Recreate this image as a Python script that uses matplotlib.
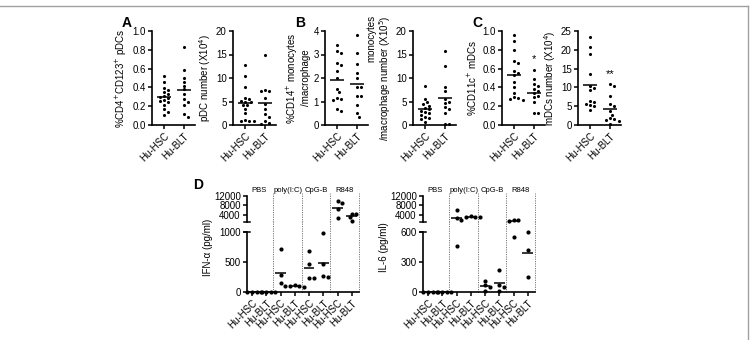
import numpy as np
import matplotlib
matplotlib.use("Agg")
import matplotlib.pyplot as plt
from matplotlib.lines import Line2D

plt.rcParams['font.family'] = ['Liberation Sans', 'DejaVu Sans']

groups = ["Hu-HSC", "Hu-BLT"]

# top row data
pdc_pct_hsc = [0.52, 0.46, 0.39, 0.37, 0.35, 0.33, 0.31, 0.30, 0.29, 0.27, 0.26, 0.24, 0.21, 0.17, 0.14, 0.11]
pdc_pct_blt = [0.83, 0.58, 0.50, 0.46, 0.42, 0.38, 0.33, 0.28, 0.25, 0.21, 0.12, 0.09]
pdc_num_hsc = [12.7, 10.5, 8.0, 5.8, 5.5, 5.2, 5.0, 4.8, 4.2, 4.3, 3.3, 2.5, 1.0, 0.9, 0.9, 0.85]
pdc_num_blt = [15.0, 7.4, 7.3, 7.2, 5.7, 4.4, 3.4, 2.3, 1.8, 0.9, 0.5, 0.3]
mono_pct_hsc = [3.4, 3.15, 3.05, 2.65, 2.55, 2.3, 2.0, 1.55, 1.4, 1.15, 1.12, 1.05, 0.68, 0.6]
mono_pct_blt = [3.85, 3.05, 2.6, 2.2, 2.0, 1.6, 1.6, 1.25, 1.25, 0.85, 0.5, 0.35]
mono_num_hsc = [8.4, 5.5, 4.8, 4.4, 4.1, 3.6, 3.3, 3.0, 2.8, 2.5, 2.2, 1.8, 1.5, 1.2, 0.6]
mono_num_blt = [15.8, 12.5, 8.0, 7.2, 5.6, 5.0, 4.6, 3.8, 3.5, 2.5, 0.3, 0.2]
mdc_pct_hsc = [0.96, 0.89, 0.80, 0.68, 0.66, 0.57, 0.55, 0.53, 0.46, 0.40, 0.34, 0.30, 0.29, 0.28, 0.27]
mdc_pct_blt = [0.58, 0.49, 0.44, 0.42, 0.38, 0.36, 0.34, 0.31, 0.30, 0.25, 0.13, 0.13]
mdc_num_hsc = [23.3, 20.8, 18.8, 13.6, 10.5, 9.8, 9.3, 6.3, 6.0, 5.6, 5.2, 5.0, 4.0]
mdc_num_blt = [10.8, 10.4, 7.7, 5.5, 5.0, 3.6, 2.7, 1.8, 1.6, 1.2, 1.0, 0.3]

# panel D data
treatments = ["PBS", "poly(I:C)", "CpG-B", "R848"]
d_labels = groups * 4
ifn = [
    [0, 0, 0, 0], [0, 0, 0, 0],
    [720, 290, 150, 100], [120, 100, 95, 90],
    [680, 460, 240, 240], [980, 460, 270, 250],
    [10000, 9200, 6500, 2700], [4500, 4200, 3200, 1500],
]
il6 = [
    [0, 0, 0, 0], [0, 0, 0, 0],
    [6100, 2500, 1800, 456], [3500, 3300, 3200, 3000],
    [115, 70, 55, 15], [221, 70, 54, 13],
    [1700, 1700, 1600, 553], [597, 423, 148],
]

W, H = 754, 340
fig = plt.figure(figsize=(W / 100, H / 100), dpi=100)


def px_axes(left, top, right, bottom):
    return fig.add_axes([left / W, 1 - bottom / H, (right - left) / W, (bottom - top) / H])


def swarm(vals, to_px, step_px, dot=3.3):
    # simple deterministic beeswarm, spacing in pixels
    vals = np.asarray(vals, float)
    offs = np.zeros(len(vals))
    placed = []
    for i in np.argsort(-vals, kind="stable"):
        y = to_px(vals[i])
        for k in [0, 0.6, -0.6, 1.2, -1.2, 1.8, -1.8, 2.4, -2.4]:
            x = k * dot
            if all((x - px) ** 2 + (y - py) ** 2 >= dot ** 2 for px, py in placed):
                break
        placed.append((x, y))
        offs[i] = x / step_px
    return offs


def style(ax):
    for s in ["top", "right"]:
        ax.spines[s].set_visible(False)
    for s in ["left", "bottom"]:
        ax.spines[s].set_linewidth(1.2)
    ax.tick_params(width=1.1, length=3, labelsize=7, pad=1.5)


top_panels = [
    (152, pdc_pct_hsc, pdc_pct_blt, 1.0, 0.2, "%CD4$^{+}$CD123$^{+}$ pDCs", "A", None),
    (233, pdc_num_hsc, pdc_num_blt, 20, 5, "pDC number (X10$^{4}$)", None, None),
    (325, mono_pct_hsc, mono_pct_blt, 4, 1, "%CD14$^{+}$ monocytes\n/macrophage", "B", None),
    (413, mono_num_hsc, mono_num_blt, 20, 5, "monocytes\n/macrophage number (X10$^{5}$)", None, None),
    (502, mdc_pct_hsc, mdc_pct_blt, 1.0, 0.2, "%CD11c$^{+}$ mDCs", "C", (0.70, "*")),
    (578, mdc_num_hsc, mdc_num_blt, 25, 5, "mDCs number (X10$^{4}$)", None, (13.5, "**")),
]

TOP, ZERO = 31, 125
for left, hsc, blt, ymax, step, ylabel, letter, star in top_panels:
    ax = px_axes(left, TOP, left + 43, ZERO)
    ax.set_xlim(-0.6, 1.55)
    ax.set_ylim(0, ymax)
    step_px = 43 / 2.15
    for i, vals in enumerate([hsc, blt]):
        offs = swarm(vals, lambda v: v / ymax * (ZERO - TOP), step_px, dot=3.6)
        ax.scatter(i + offs, vals, s=5, c="black", lw=0, clip_on=False, zorder=3)
        ax.hlines(np.mean(vals), i - 0.35, i + 0.35, color="black", lw=1.1)
    ax.set_yticks(np.arange(0, ymax + step / 2, step))
    if ymax <= 1:
        ax.set_yticklabels([f"{t:.1f}" for t in ax.get_yticks()])
    ax.set_xticks([0, 1])
    ax.set_xticklabels(groups, rotation=45, ha="right", rotation_mode="anchor", fontsize=7)
    ma = "right" if "monocytes\n/macrophage number" in ylabel else "center"
    ax.set_ylabel(ylabel, fontsize=7, labelpad=2, multialignment=ma, linespacing=1.1)
    style(ax)
    if star:
        ax.text(1, star[0], star[1], ha="center", va="center", fontsize=8)
    if letter:
        fig.text((left - 30) / W, 1 - 23 / H, letter, fontsize=10, fontweight="bold", va="center")


def panel_d(left, data, lo_max, lo_ticks, ylabel, letter=None):
    right = left + 112
    top_min = 1000
    axt = px_axes(left, 196, right, 222)
    axb = px_axes(left, 232, right, 292)
    step_px = 112 / 7.85

    def to_px(v):
        if v <= lo_max:
            return v / lo_max * 60
        return 70 + (v - top_min) / (12000 - top_min) * 26

    for ax in (axt, axb):
        ax.set_xlim(-0.35, 7.5)
        style(ax)
    axt.set_ylim(top_min, 12000)
    axb.set_ylim(0, lo_max)
    axt.spines["bottom"].set_visible(False)
    axt.set_xticks([])
    axt.set_yticks([4000, 8000, 12000])
    axb.set_yticks(lo_ticks)
    axb.set_xticks(range(8))
    axb.set_xticklabels(d_labels, rotation=45, ha="right", rotation_mode="anchor", fontsize=7)
    # caps at the axis break
    axt.plot([-0.55, -0.15], [top_min, top_min], color="black", lw=1.1, clip_on=False)
    axb.plot([-0.55, -0.15], [lo_max, lo_max], color="black", lw=1.1, clip_on=False)

    for i, vals in enumerate(data):
        vals = np.asarray(vals, float)
        offs = swarm(vals, to_px, step_px, dot=3.8)
        lo = vals <= lo_max
        axb.scatter(i + offs[lo], vals[lo], s=9, c="black", lw=0, clip_on=False, zorder=3)
        axt.scatter(i + offs[~lo], vals[~lo], s=9, c="black", lw=0, clip_on=False, zorder=3)
        m = vals.mean()
        target = axb if m <= lo_max else axt
        target.hlines(m, i - 0.38, i + 0.38, color="black", lw=1.1)

    for x in [1.5, 3.5, 5.5, 7.5]:
        axb.axvline(x, 0, 1.18, color="#777777", lw=0.7, ls=(0, (1.2, 1.2)), clip_on=False)
        axt.axvline(x, 0, 1.12, color="#777777", lw=0.7, ls=(0, (1.2, 1.2)), clip_on=False)
    for k, name in enumerate(treatments):
        axt.text(2 * k + 0.5, 1.06, name, transform=axt.get_xaxis_transform(),
                 ha="center", va="bottom", fontsize=5.5)
    axb.set_ylabel(ylabel, fontsize=7, labelpad=2)
    axb.yaxis.set_label_coords(-0.3, 0.75)
    if letter:
        fig.text(193 / W, 1 - 185 / H, letter, fontsize=10, fontweight="bold", va="center")


panel_d(247, ifn, 1000, [0, 500, 1000], "IFN-α (pg/ml)", "D")
panel_d(423, il6, 600, [0, 300, 600], "IL-6 (pg/ml)")

# thin grey frame around the figure area
fig.add_artist(Line2D([0, 748 / W], [1 - 6 / H, 1 - 6 / H], color="#a0a0a0", lw=1))
fig.add_artist(Line2D([748 / W, 748 / W], [0, 1 - 6 / H], color="#a0a0a0", lw=1))

fig.savefig("out.png", dpi=100)
